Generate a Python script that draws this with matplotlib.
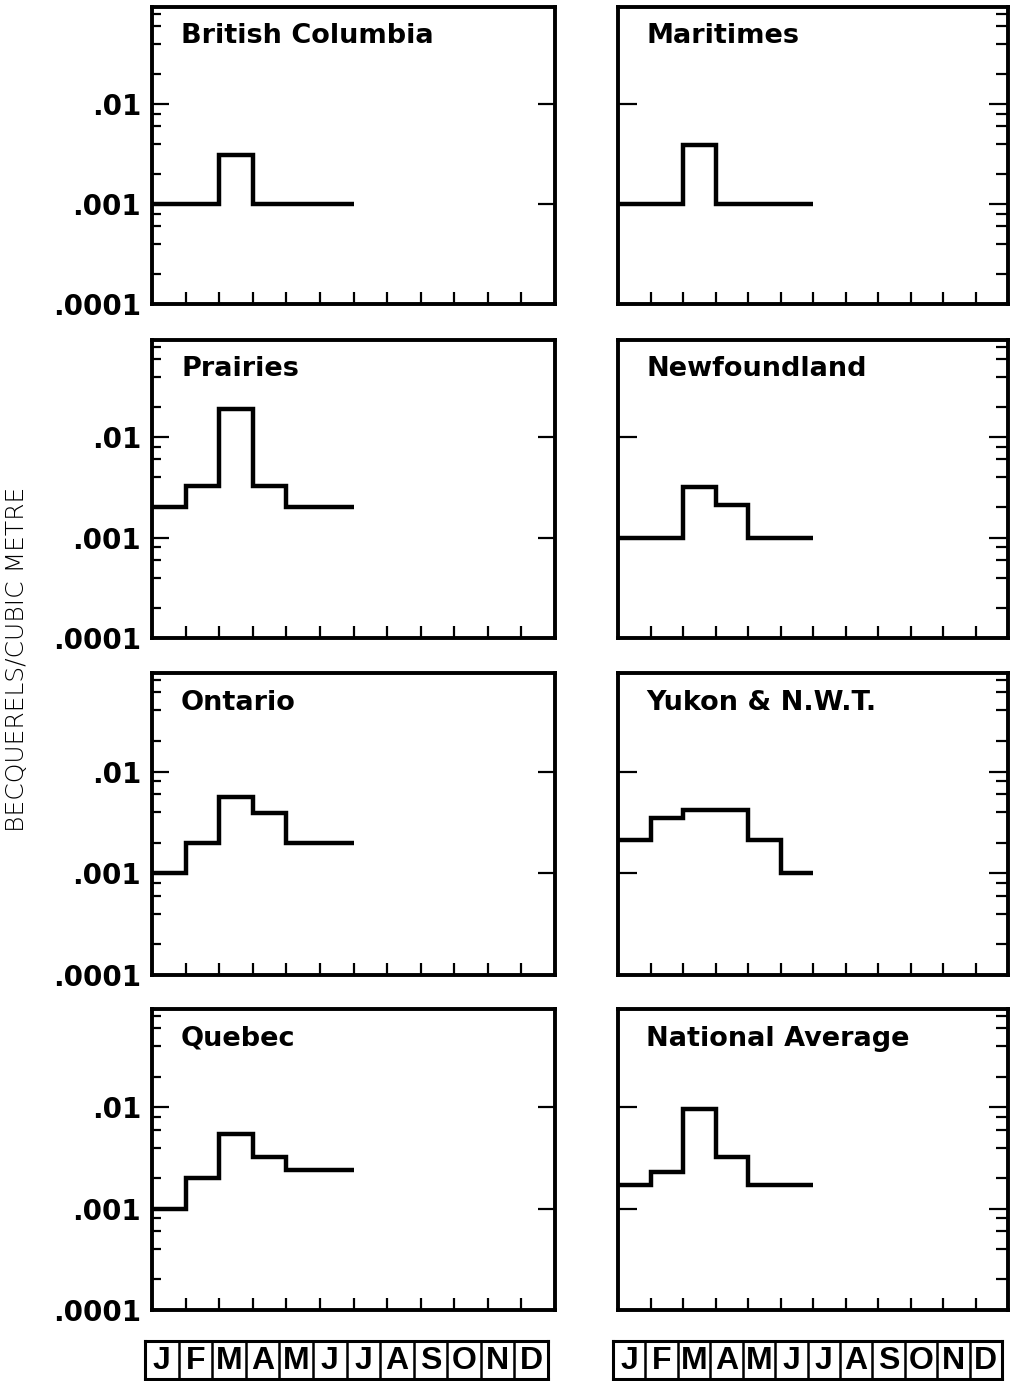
import numpy as np
import matplotlib
matplotlib.use("Agg")
import matplotlib.pyplot as plt
from matplotlib.ticker import FixedLocator, FixedFormatter, NullFormatter

# ---------------- data ----------------
month_letters = ["J", "F", "M", "A", "M", "J", "J", "A", "S", "O", "N", "D"]
data_months = ["Jan", "Feb", "Mar", "Apr", "May", "Jun"]

british_columbia = [0.001, 0.001, 0.0031, 0.001, 0.001, 0.001]
maritimes = [0.001, 0.001, 0.0039, 0.001, 0.001, 0.001]
prairies = [0.002, 0.0033, 0.019, 0.0033, 0.002, 0.002]
newfoundland = [0.001, 0.001, 0.0032, 0.0021, 0.001, 0.001]
ontario = [0.001, 0.002, 0.0056, 0.0039, 0.002, 0.002]
yukon_nwt = [0.0021, 0.0035, 0.0042, 0.0042, 0.0021, 0.001]
quebec = [0.001, 0.002, 0.0055, 0.0032, 0.0024, 0.0024]
national_average = [0.0017, 0.0023, 0.0097, 0.0032, 0.0017, 0.0017]

panel_titles = ["British Columbia", "Maritimes", "Prairies", "Newfoundland",
                "Ontario", "Yukon & N.W.T.", "Quebec", "National Average"]
panel_values = [british_columbia, maritimes, prairies, newfoundland,
                ontario, yukon_nwt, quebec, national_average]

ytick_values = [0.0001, 0.001, 0.01]
ytick_labels = [".0001", ".001", ".01"]
y_label = "BECQUERELS/CUBIC METRE"

# ---------------- figure ----------------
W, H = 1018, 1381
fig = plt.figure(figsize=(W / 100, H / 100), dpi=100)

def fig_rect(x0, y0, x1, y1):
    return [x0 / W, 1 - y1 / H, (x1 - x0) / W, (y1 - y0) / H]

col_x = [(152, 555), (618, 1008)]
row_y = [(7, 304), (340, 638), (673, 975), (1009, 1310)]

YMIN, YMAX = 1e-4, 0.093
minor_vals = [m * 10.0 ** k for k in (-4, -3, -2) for m in (2, 4, 6, 8)]
minor_vals = [v for v in minor_vals if v < YMAX]

edges = np.arange(len(data_months) + 1)

for i, (title, vals) in enumerate(zip(panel_titles, panel_values)):
    r, c = divmod(i, 2)
    x0, x1 = col_x[c]
    y0, y1 = row_y[r]
    ax = fig.add_axes(fig_rect(x0, y0, x1, y1))
    ax.set_yscale("log")
    ax.set_xlim(0, 12)
    ax.set_ylim(YMIN, YMAX)

    ax.stairs(vals, edges, baseline=None, color="black", linewidth=3.2,
              joinstyle="miter")

    for s in ax.spines.values():
        s.set_linewidth(2.8)

    ax.xaxis.set_major_locator(FixedLocator(np.arange(1, 12)))
    ax.xaxis.set_major_formatter(NullFormatter())
    ax.xaxis.set_minor_locator(FixedLocator([]))
    ax.tick_params(axis="x", which="major", direction="in", length=9,
                   width=1.6, bottom=True, top=False)

    ax.yaxis.set_major_locator(FixedLocator(ytick_values))
    ax.yaxis.set_minor_locator(FixedLocator(minor_vals))
    ax.yaxis.set_minor_formatter(NullFormatter())
    if c == 0:
        ax.yaxis.set_major_formatter(FixedFormatter(ytick_labels))
        ax.tick_params(axis="y", which="major", direction="in", length=12,
                       width=1.6, left=True, right=True, pad=8,
                       labelsize=20)
        ax.tick_params(axis="y", which="minor", direction="in", length=6.5,
                       width=1.6, left=True, right=False)
        for lab in ax.get_yticklabels():
            lab.set_fontweight("bold")
    else:
        ax.yaxis.set_major_formatter(NullFormatter())
        ax.tick_params(axis="y", which="major", direction="in", length=14,
                       width=1.6, left=True, right=True, labelleft=False)
        ax.tick_params(axis="y", which="minor", direction="in", length=9,
                       width=1.6, left=False, right=True)

    ax.text(0.072, 0.945, title, transform=ax.transAxes, ha="left", va="top",
            fontsize=19.5, fontweight="bold", family="DejaVu Sans")

# month boxes
box_x = [(145, 548), (613, 1002)]
for bx0, bx1 in box_x:
    mx = fig.add_axes(fig_rect(bx0, 1341, bx1, 1379))
    mx.set_xlim(0, 12)
    mx.set_ylim(0, 1)
    mx.set_xticks([])
    mx.set_yticks([])
    for s in mx.spines.values():
        s.set_linewidth(2.2)
    for k in range(1, 12):
        mx.axvline(k, color="black", linewidth=1.8)
    for k, letter in enumerate(month_letters):
        mx.text(k + 0.5, 0.47, letter, ha="center", va="center",
                fontsize=23, fontweight="bold", family="Liberation Sans")

fig.text(17 / W, 1 - 659 / H, y_label, rotation=90, ha="center", va="center",
         fontsize=18, fontweight="light", family="DejaVu Sans")

fig.savefig("out.png", dpi=100, facecolor="white")
